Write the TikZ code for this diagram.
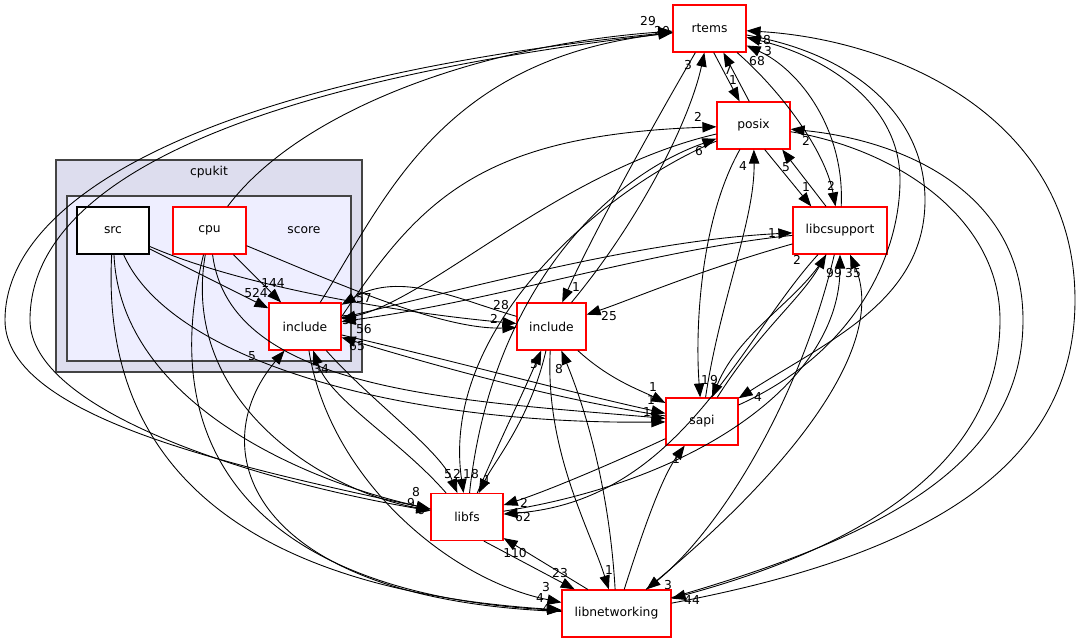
\documentclass[tikz,border=0pt]{standalone}
\usepackage{fontspec}
\setmainfont{DejaVu Sans}
\usetikzlibrary{arrows.meta}
\definecolor{CLUSTERA}{HTML}{DDDDEE}
\definecolor{CLUSTERB}{HTML}{EEEEFF}
\definecolor{FRAME}{HTML}{444444}
\definecolor{DIRRED}{HTML}{FF0000}
\tikzset{
  dirbox/.style={draw=DIRRED, fill=white, line width=1pt, minimum height=1.41cm, inner sep=0pt, font=\fontsize{10.5}{12}\selectfont},
  depline/.style={black, line width=0.75pt, -{Triangle[length=4.2mm,width=3.1mm]}},
  lbl/.style={font=\fontsize{10.5}{12}\selectfont, inner sep=0pt},
}

\begin{document}
\begin{tikzpicture}[x=0.03cm, y=-0.03cm]
    \useasboundingbox (0,0) rectangle (1080,644);
    % Clusters
    \draw[FRAME, fill=CLUSTERA, line width=1pt] (56,160) rectangle (362,372);
    \node[lbl] (cpukitlbl) at (209,172) {cpukit};
    \draw[FRAME, fill=CLUSTERB, line width=1pt] (67,196) rectangle (351,361);
    \node[lbl] (scorelbl) at (304,230) {score};
    % Nodes
    \node[dirbox, draw=black, minimum width=2.16cm] (src) at (113,230.5) {src};
    \node[dirbox, minimum width=2.19cm] (cpu) at (209.5,230.5) {cpu};
    \node[dirbox, minimum width=2.16cm] (sinc) at (305,326.5) {include};
    \node[dirbox, minimum width=2.19cm] (rtems) at (709.5,28.5) {rtems};
    \node[dirbox, minimum width=2.19cm] (posix) at (753.5,125.5) {posix};
    \node[dirbox, minimum width=2.82cm] (libc) at (840,230.5) {libcsupport};
    \node[dirbox, minimum width=2.07cm] (cinc) at (551.5,326.5) {include};
    \node[dirbox, minimum width=2.16cm] (sapi) at (702,421.5) {sapi};
    \node[dirbox, minimum width=2.16cm] (libfs) at (467,517) {libfs};
    \node[dirbox, minimum width=3.27cm] (lnet) at (616.5,613.5) {libnetworking};
    % Inside score
    \draw[depline] (src) -- (sinc);
    \draw[depline] (cpu) -- (sinc);
    % Into rtems
    \draw[depline] (sinc) .. controls (385,200) and (440,60) .. (rtems);
    \draw[depline] (cpu) .. controls (300,110) and (480,45) .. (rtems);
    \draw[depline] (libfs) .. controls (250,470) and (5,420) .. (5,320) .. controls (5,200) and (200,80) .. (rtems);
    \draw[depline] (cinc) .. controls (640,220) and (690,120) .. (rtems);
    \draw[depline] (posix.100) -- (rtems.-60);
    \draw[depline] (libc) .. controls (845,130) and (800,70) .. (rtems);
    \draw[depline] (sapi) .. controls (860,350) and (900,250) .. (900,180) .. controls (900,100) and (820,55) .. (rtems);
    \draw[depline] (lnet) .. controls (900,560) and (1075,480) .. (1075,300) .. controls (1075,120) and (900,40) .. (rtems);
    % Out of rtems
    \draw[depline] (rtems) .. controls (220,85) and (30,190) .. (30,320) .. controls (30,410) and (250,480) .. (libfs);
    \draw[depline] (rtems) .. controls (650,130) and (590,240) .. (cinc);
    \draw[depline] (rtems.-80) -- (posix.120);
    \draw[depline] (rtems) .. controls (780,90) and (825,150) .. (libc);
    \draw[depline] (rtems) .. controls (860,55) and (925,120) .. (925,200) .. controls (925,300) and (830,340) .. (sapi);
    % posix
    \draw[depline] (sinc.15) .. controls (420,200) and (480,135) .. (posix);
    \draw[depline] (posix) .. controls (560,170) and (430,300) .. (sinc);
    \draw[depline] (libfs) .. controls (490,300) and (600,180) .. (posix);
    \draw[depline] (posix) .. controls (600,190) and (440,330) .. (libfs);
    \draw[depline] (sapi) .. controls (720,300) and (755,220) .. (posix);
    \draw[depline] (posix) .. controls (700,220) and (695,330) .. (sapi);
    \draw[depline] (posix.-65) -- (libc.140);
    \draw[depline] (libc.120) -- (posix.-40);
    \draw[depline] (posix) .. controls (900,150) and (1000,220) .. (1000,320) .. controls (1000,470) and (850,550) .. (lnet);
    \draw[depline] (lnet) .. controls (870,540) and (1023,470) .. (1023,320) .. controls (1023,190) and (900,140) .. (posix);
    % libcsupport
    \draw[depline] (sinc) .. controls (500,280) and (650,240) .. (libc);
    \draw[depline] (libc) .. controls (650,250) and (500,300) .. (sinc);
    \draw[depline] (libc) .. controls (700,270) and (630,300) .. (cinc);
    \draw[depline] (libc) .. controls (800,300) and (740,330) .. (sapi);
    \draw[depline] (sapi) .. controls (760,330) and (800,300) .. (libc);
    \draw[depline] (libfs) .. controls (700,480) and (840,380) .. (libc);
    \draw[depline] (libc) .. controls (740,340) and (680,500) .. (libfs);
    \draw[depline] (lnet) .. controls (780,480) and (890,350) .. (libc);
    \draw[depline] (libc) .. controls (800,400) and (720,530) .. (lnet);
    % include (cpukit)
    \draw[depline] (src) .. controls (250,290) and (420,315) .. (cinc);
    \draw[depline] (cpu) .. controls (330,280) and (440,330) .. (cinc);
    \draw[depline] (cinc) .. controls (460,300) and (400,270) .. (sinc);
    \draw[depline] (cinc) .. controls (610,380) and (640,390) .. (sapi);
    \draw[depline] (cinc) .. controls (530,420) and (495,460) .. (libfs);
    \draw[depline] (libfs) .. controls (500,440) and (520,400) .. (cinc);
    \draw[depline] (lnet) .. controls (610,500) and (590,420) .. (cinc);
    \draw[depline] (cinc) .. controls (545,450) and (590,530) .. (lnet);
    % sapi
    \draw[depline] (sinc) .. controls (450,360) and (560,390) .. (sapi);
    \draw[depline] (sapi) .. controls (560,400) and (450,370) .. (sinc);
    \draw[depline] (src) .. controls (170,360) and (400,425) .. (sapi);
    \draw[depline] (cpu) .. controls (230,390) and (450,400) .. (sapi);
    \draw[depline] (sapi) .. controls (620,460) and (550,490) .. (libfs);
    \draw[depline] (lnet) .. controls (640,540) and (660,480) .. (sapi);
    % libfs
    \draw[depline] (src) .. controls (120,400) and (300,480) .. (libfs);
    \draw[depline] (cpu) .. controls (180,400) and (320,490) .. (libfs);
    \draw[depline] (sinc) .. controls (370,400) and (440,450) .. (libfs);
    \draw[depline] (libfs) .. controls (400,440) and (330,400) .. (sinc);
    \draw[depline] (libfs.-55) -- (lnet.150);
    \draw[depline] (lnet.140) -- (libfs.-30);
    % libnetworking
    \draw[depline] (src) .. controls (100,470) and (250,590) .. (lnet);
    \draw[depline] (cpu) .. controls (150,470) and (280,595) .. (lnet);
    \draw[depline] (sinc) .. controls (330,480) and (450,580) .. (lnet);
    \draw[depline] (lnet) .. controls (250,600) and (200,450) .. (sinc);
    % Edge labels
    \foreach \x/\y/\t [count=\i] in {648/21/29, 662/31/20, 688/65/3, 728/70/7, 733/80/1,
        763/40/28, 768/51/3, 757/61/68, 698/117/2, 699/151/6, 743/166/4, 786/167/5,
        806/141/2, 806/187/1, 831/186/2, 772/233/1, 797/260/2, 834/273/99, 853/273/35,
        273/283/144, 256/293/524, 364/298/57, 350/320/52, 364/329/56, 357/346/65,
        252/356/5, 321/369/34, 501/305/28, 494/319/2, 576/287/1, 609/316/25,
        534/364/5, 559/369/8, 653/387/1, 651/400/1, 647/412/1, 705/380/1, 714/380/9,
        758/397/4, 676/459/1, 448/474/5, 457/474/2, 471/474/18, 487/480/1,
        416/492/8, 411/503/9, 421/510/6, 524/503/2, 523/517/62, 515/553/110,
        560/573/23, 546/587/3, 540/598/4, 546/609/4, 609/570/1, 668/585/3, 692/600/44}
        \node[lbl] (lab\i) at (\x,\y) {\t};
\end{tikzpicture}
\end{document}
